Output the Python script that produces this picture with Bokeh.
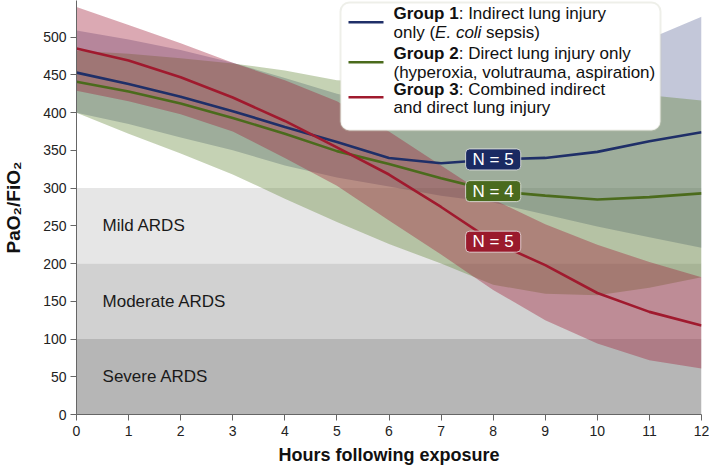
from bokeh.plotting import figure
from bokeh.models import Range1d, Label, BoxAnnotation, FixedTicker
from bokeh.embed import file_html
from bokeh.resources import INLINE
from bokeh.core.properties import value

# ---------------- data ----------------
hours = [0, 1, 2, 3, 4, 5, 6, 7, 8, 9, 10, 11, 12]

group1_mean  = [453, 438, 421, 402, 381, 361, 340, 333, 338, 340, 348, 362, 374]
group1_upper = [509, 497, 483, 466, 446, 425, 410, 405, 412, 435, 465, 498, 527]
group1_lower = [400, 385, 367, 350, 330, 314, 302, 290, 281, 265, 249, 235, 221]

group2_mean  = [441, 428, 412, 393, 372, 349, 332, 313, 296, 290, 285, 288, 293]
group2_upper = [482, 478, 472, 465, 456, 443, 440, 438, 436, 433, 429, 423, 416]
group2_lower = [400, 372, 346, 318, 286, 255, 226, 200, 172, 160, 158, 168, 182]

group3_mean  = [485, 469, 447, 420, 389, 354, 318, 275, 229, 198, 161, 136, 118]
group3_upper = [540, 516, 492, 466, 443, 415, 375, 330, 285, 252, 225, 202, 182]
group3_lower = [429, 415, 398, 375, 340, 303, 257, 212, 165, 125, 94, 72, 61]

group_n = ["N = 5", "N = 4", "N = 5"]
label_hour = 8

ards_names = ["Mild ARDS", "Moderate ARDS", "Severe ARDS"]
ards_top = [300, 200, 100]
ards_bottom = [200, 100, 0]

x_ticks = list(range(0, 13))
y_ticks = list(range(0, 501, 50))

# ---------------- style ----------------
FONT = "Liberation Sans"
line_colors = ["#1f2f68", "#4b6b1c", "#a01a2e"]
band_colors = ["#283778", "#5a7d28", "#a01e37"]
band_alphas = [0.28, 0.35, 0.38]
label_bg = ["#1a2a62", "#4a6a1e", "#9a1a2c"]
ards_colors = ["#e6e6e6", "#d1d1d1", "#b6b6b6"]

W, H = 709, 470
Y_MAX = 548.6
p = figure(width=W, height=H, output_backend="svg", toolbar_location=None,
           x_range=Range1d(0, 12), y_range=Range1d(0, Y_MAX),
           min_border_left=76, min_border_right=8, min_border_top=0, min_border_bottom=56)
p.outline_line_color = None
p.grid.visible = False
p.background_fill_color = "white"

# ARDS severity bands
p.quad(left=0, right=12, top=ards_top, bottom=ards_bottom, fill_color=ards_colors, line_color=None)
for name, t, b in zip(ards_names, ards_top, ards_bottom):
    p.text(x=[0.5], y=[(t + b) / 2], text=[name], text_font=value(FONT), text_font_size="17px",
           text_color="#1a1a1a", text_baseline="middle", text_align="left")

# confidence bands
uppers = [group1_upper, group2_upper, group3_upper]
lowers = [group1_lower, group2_lower, group3_lower]
means = [group1_mean, group2_mean, group3_mean]
for up, lo, c, a in zip(uppers, lowers, band_colors, band_alphas):
    p.varea(x=hours, y1=lo, y2=up, fill_color=c, fill_alpha=a)

for m, c in zip(means, line_colors):
    p.line(x=hours, y=m, line_color=c, line_width=2.6)

# N labels
for m, txt, bg in zip(means, group_n, label_bg):
    p.add_layout(Label(x=label_hour, y=m[label_hour], text=txt, text_align="center",
                       text_baseline="middle", text_color="white", text_font=FONT,
                       text_font_size="17px", background_fill_color=bg, background_fill_alpha=1,
                       border_line_color="#e8e8e8", border_line_width=1, border_line_alpha=0.8,
                       padding=dict(left=7, right=7, top=1, bottom=1), border_radius=4))

# axes
for ax in (p.xaxis[0], p.yaxis[0]):
    ax.axis_line_color = "#666666"
    ax.major_tick_line_color = "#666666"
    ax.minor_tick_line_color = None
    ax.major_tick_out = 6
    ax.major_tick_in = 0
    ax.major_label_text_font = FONT
    ax.major_label_text_font_size = "14px"
    ax.major_label_text_color = "#222222"
    ax.axis_label_text_font = FONT
    ax.axis_label_text_font_style = "bold"
    ax.axis_label_text_color = "#111111"
p.xaxis.ticker = FixedTicker(ticks=x_ticks)
p.yaxis.ticker = FixedTicker(ticks=y_ticks)
p.xaxis.axis_label = "Hours following exposure"
p.xaxis.axis_label_text_font_size = "18px"
p.xaxis.axis_label_standoff = 6
p.xaxis.major_label_standoff = 5
p.yaxis.axis_label = "PaO\u2082/FiO\u2082"
p.yaxis.axis_label_text_font_size = "19px"
p.yaxis.axis_label_standoff = 16
p.yaxis.major_label_standoff = 4

# ---------------- legend (positions in image pixels -> data) ----------------
def X(px):
    return (px - 76) / (625 / 12)

def Y(py):
    return (414 - py) / (414 / Y_MAX)

p.add_layout(BoxAnnotation(left=X(340), right=X(660), top=Y(2), bottom=Y(130),
                           fill_color="white", fill_alpha=1, line_color="#c8cbb6",
                           line_width=2, border_radius=9))
for ly, c in zip([21.7, 61.7, 96.7], line_colors):
    p.add_layout(BoxAnnotation(left=X(348), right=X(383), top=Y(ly - 1.3), bottom=Y(ly + 1.3),
                               fill_color=c, fill_alpha=1, line_color=None))

tx = X(393)
def leg(text, py, off=0, style="normal"):
    p.add_layout(Label(x=tx, y=Y(py), x_offset=off, text=text, text_font=FONT,
                       text_font_size="17px", text_font_style=style, text_color="#111111",
                       text_baseline="middle", text_align="left"))

leg("Group 1", 13, 0, "bold"); leg(": Indirect lung injury", 13, 65.2)
leg("only (", 32, 0); leg("E. coli", 32, 41.6, "italic"); leg("sepsis)", 32, 41.6 + 46.3 + 4.7)
leg("Group 2", 53, 0, "bold"); leg(": Direct lung injury only", 53, 65.2)
leg("(hyperoxia, volutrauma, aspiration)", 71.5, 0)
leg("Group 3", 89, 0, "bold"); leg(": Combined indirect", 89, 65.2)
leg("and direct lung injury", 107, 0)

open("out.html", "w").write(file_html(p, INLINE))
